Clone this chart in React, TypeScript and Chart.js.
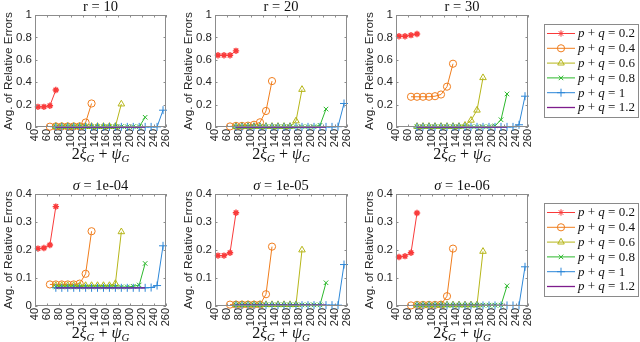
import React, { useEffect, useRef } from 'react';
import { Chart, registerables } from 'chart.js';
import { drawPoint } from 'chart.js/helpers';

Chart.register(...registerables);

// ---------- data ----------
const xTicks = [40, 60, 80, 100, 120, 140, 160, 180, 200, 220, 240, 260];
const yTicksTop = [0, 0.2, 0.4, 0.6, 0.8, 1];
const yTicksBottom = [0, 0.1, 0.2, 0.3, 0.4];

const seriesLabels = ['0.2', '0.4', '0.6', '0.8', '1', '1.2'];

const xRed = [45, 55, 65, 75];
const xOrange = [65, 75, 85, 95, 105, 115, 125, 135];
const xYellow = [75, 85, 95, 105, 115, 125, 135, 145, 155, 165, 175, 185];
const xGreen = [75, 85, 95, 105, 115, 125, 135, 145, 155, 165, 175, 185, 195, 205, 215, 225];
const xBlue = [75, 85, 95, 105, 115, 125, 135, 145, 155, 165, 175, 185, 195, 205, 215, 225, 235, 245, 255];
const xPurple = [75, 85, 95, 105, 115, 125, 135, 145, 155, 165, 175, 185, 195, 205, 215, 225];

// r = 10
const r10Red = [0.18, 0.18, 0.19, 0.33];
const r10Orange = [0.003, 0.005, 0.005, 0.005, 0.005, 0.006, 0.04, 0.21];
const r10Yellow = [0.005, 0.005, 0.005, 0.005, 0.005, 0.005, 0.005, 0.005, 0.005, 0.005, 0.005, 0.205];
const r10Green = [0.003, 0.003, 0.003, 0.003, 0.003, 0.003, 0.003, 0.003, 0.003, 0.003, 0.003, 0.003, 0.003, 0.003, 0.003, 0.087];
const r10Blue = [0.001, 0.001, 0.001, 0.001, 0.001, 0.001, 0.001, 0.001, 0.001, 0.001, 0.001, 0.001, 0.001, 0.001, 0.001, 0.001, 0.001, 0.001, 0.15];
const r10Purple = [0, 0, 0, 0, 0, 0, 0, 0, 0, 0, 0, 0, 0, 0, 0, 0];

// r = 20
const r20Red = [0.64, 0.64, 0.64, 0.68];
const r20Orange = [0.005, 0.01, 0.01, 0.012, 0.02, 0.042, 0.143, 0.41];
const r20Yellow = [0.005, 0.005, 0.005, 0.005, 0.005, 0.005, 0.005, 0.005, 0.005, 0.005, 0.054, 0.335];
const r20Green = [0.003, 0.003, 0.003, 0.003, 0.003, 0.003, 0.003, 0.003, 0.003, 0.003, 0.003, 0.003, 0.003, 0.003, 0.015, 0.16];
const r20Blue = [0.001, 0.001, 0.001, 0.001, 0.001, 0.001, 0.001, 0.001, 0.001, 0.001, 0.001, 0.001, 0.001, 0.001, 0.001, 0.001, 0.001, 0.003, 0.21];
const r20Purple = [0, 0, 0, 0, 0, 0, 0, 0, 0, 0, 0, 0, 0, 0, 0, 0];

// r = 30
const r30Red = [0.81, 0.81, 0.82, 0.83];
const r30Orange = [0.27, 0.27, 0.27, 0.27, 0.275, 0.29, 0.36, 0.565];
const r30Yellow = [0.005, 0.005, 0.005, 0.005, 0.005, 0.005, 0.005, 0.005, 0.015, 0.06, 0.15, 0.44];
const r30Green = [0.003, 0.003, 0.003, 0.003, 0.003, 0.003, 0.003, 0.003, 0.003, 0.003, 0.003, 0.003, 0.003, 0.01, 0.065, 0.295];
const r30Blue = [0.001, 0.001, 0.001, 0.001, 0.001, 0.001, 0.001, 0.001, 0.001, 0.001, 0.001, 0.001, 0.001, 0.001, 0.001, 0.001, 0.001, 0.02, 0.275];
const r30Purple = [0, 0, 0, 0, 0, 0, 0, 0, 0, 0, 0, 0, 0, 0, 0, 0];

// sigma = 1e-04
const s4Red = [0.205, 0.207, 0.218, 0.355];
const s4Orange = [0.077, 0.077, 0.077, 0.077, 0.077, 0.08, 0.115, 0.267];
const s4Yellow = [0.073, 0.073, 0.073, 0.073, 0.073, 0.073, 0.073, 0.073, 0.073, 0.073, 0.08, 0.265];
const s4Green = [0.068, 0.068, 0.068, 0.068, 0.068, 0.068, 0.068, 0.068, 0.068, 0.068, 0.068, 0.068, 0.068, 0.07, 0.075, 0.152];
const s4Blue = [0.065, 0.065, 0.065, 0.065, 0.065, 0.065, 0.065, 0.065, 0.065, 0.065, 0.065, 0.065, 0.065, 0.065, 0.065, 0.065, 0.066, 0.073, 0.215];
const s4Purple = [0.065, 0.065, 0.065, 0.065, 0.065, 0.065, 0.065, 0.065, 0.065, 0.065, 0.065, 0.065, 0.065, 0.065, 0.065, 0.065];

// sigma = 1e-05
const s5Red = [0.18, 0.18, 0.19, 0.333];
const s5Orange = [0.005, 0.005, 0.005, 0.005, 0.005, 0.005, 0.042, 0.212];
const s5Yellow = [0.005, 0.005, 0.005, 0.005, 0.005, 0.005, 0.005, 0.005, 0.005, 0.005, 0.005, 0.2];
const s5Green = [0.004, 0.004, 0.004, 0.004, 0.004, 0.004, 0.004, 0.004, 0.004, 0.004, 0.004, 0.004, 0.004, 0.004, 0.004, 0.083];
const s5Blue = [0.003, 0.003, 0.003, 0.003, 0.003, 0.003, 0.003, 0.003, 0.003, 0.003, 0.003, 0.003, 0.003, 0.003, 0.003, 0.003, 0.003, 0.003, 0.148];
const s5Purple = [0.003, 0.003, 0.003, 0.003, 0.003, 0.003, 0.003, 0.003, 0.003, 0.003, 0.003, 0.003, 0.003, 0.003, 0.003, 0.003];

// sigma = 1e-06
const s6Red = [0.175, 0.178, 0.19, 0.332];
const s6Orange = [0.002, 0.004, 0.004, 0.004, 0.004, 0.005, 0.035, 0.205];
const s6Yellow = [0.004, 0.004, 0.004, 0.004, 0.004, 0.004, 0.004, 0.004, 0.004, 0.004, 0.004, 0.195];
const s6Green = [0.003, 0.003, 0.003, 0.003, 0.003, 0.003, 0.003, 0.003, 0.003, 0.003, 0.003, 0.003, 0.003, 0.003, 0.003, 0.072];
const s6Blue = [0.002, 0.002, 0.002, 0.002, 0.002, 0.002, 0.002, 0.002, 0.002, 0.002, 0.002, 0.002, 0.002, 0.002, 0.002, 0.002, 0.002, 0.002, 0.14];
const s6Purple = [0.002, 0.002, 0.002, 0.002, 0.002, 0.002, 0.002, 0.002, 0.002, 0.002, 0.002, 0.002, 0.002, 0.002, 0.002, 0.002];

// ---------- styling ----------
const W = 640;
const H = 342;
const YW = 34;
const XH = 20;
const BOX = '#8c8c8c';
const TXT = '#262626';
const SANS = '"Liberation Sans", Arial, sans-serif';
const SERIF = '"Liberation Serif", "Times New Roman", serif';

const COLORS = ['#f93a3a', '#f07d1d', '#b6b61a', '#2cb82c', '#2c87d8', '#7d1c8c'];
const STYLES: any[] = ['star', 'circle', 'triangle', 'crossRot', 'cross', false];
const RADII = [3.2, 3.6, 3.8, 3.2, 4, 0];
const XS = [xRed, xOrange, xYellow, xGreen, xBlue, xPurple];

const COLS = [
  { l: 35, r: 166 },
  { l: 215, r: 347 },
  { l: 396, r: 528 },
];
const ROWS = [
  { t: 15, b: 127 },
  { t: 194, b: 306 },
];

type Seg = { t: string; font: string; dy?: number };

function richWidth(ctx: CanvasRenderingContext2D, segs: Seg[]) {
  let w = 0;
  for (const s of segs) {
    ctx.font = s.font;
    w += ctx.measureText(s.t).width;
  }
  return w;
}

function drawRich(ctx: CanvasRenderingContext2D, segs: Seg[], x: number, y: number, align: 'left' | 'center') {
  const total = richWidth(ctx, segs);
  let cx = align === 'center' ? x - total / 2 : x;
  ctx.textAlign = 'left';
  for (const s of segs) {
    ctx.font = s.font;
    ctx.fillText(s.t, cx, y + (s.dy || 0));
    cx += ctx.measureText(s.t).width;
  }
}

const panelPlugin = {
  id: 'panelDeco',
  afterDraw(chart: any, _args: any, opts: any) {
    const { ctx, chartArea: a } = chart;
    const xs = chart.scales.x;
    const ys = chart.scales.y;
    ctx.save();
    // inner ticks
    ctx.strokeStyle = BOX;
    ctx.lineWidth = 1;
    ctx.beginPath();
    for (const v of xTicks) {
      const px = Math.round(xs.getPixelForValue(v)) + 0.5;
      ctx.moveTo(px, a.bottom);
      ctx.lineTo(px, a.bottom - 2.5);
      ctx.moveTo(px, a.top);
      ctx.lineTo(px, a.top + 2.5);
    }
    for (const v of opts.yTicks) {
      const py = Math.round(ys.getPixelForValue(v)) + 0.5;
      ctx.moveTo(a.left, py);
      ctx.lineTo(a.left + 2.5, py);
      ctx.moveTo(a.right, py);
      ctx.lineTo(a.right - 2.5, py);
    }
    ctx.stroke();
    // box
    ctx.strokeRect(a.left + 0.5, a.top + 0.5, a.right - a.left - 1, a.bottom - a.top - 1);

    const cx = (a.left + a.right) / 2;
    // title
    ctx.fillStyle = '#111';
    ctx.textBaseline = 'alphabetic';
    drawRich(ctx, opts.title, cx, a.top - 4, 'center');

    // x label
    const f = '16px ' + SERIF;
    const fi = 'italic 16px ' + SERIF;
    const fs = 'italic 11px ' + SERIF;
    drawRich(
      ctx,
      [
        { t: '2', font: f },
        { t: 'ξ', font: fi },
        { t: 'G', font: fs, dy: 3 },
        { t: ' + ', font: f },
        { t: 'ψ', font: fi },
        { t: 'G', font: fs, dy: 3 },
      ],
      cx,
      a.bottom + 31.5,
      'center'
    );

    // y label
    ctx.save();
    ctx.translate(a.left - 26.5, (a.top + a.bottom) / 2);
    ctx.rotate(-Math.PI / 2);
    ctx.font = '11.8px ' + SANS;
    ctx.fillStyle = TXT;
    ctx.textAlign = 'center';
    ctx.textBaseline = 'middle';
    ctx.fillText('Avg. of Relative Errors', 0, 0);
    ctx.restore();

    // legend
    if (opts.legend) {
      const lx = 544;
      const ly = a.top + 9;
      const lw = 94;
      const lh = 93;
      ctx.fillStyle = '#fff';
      ctx.fillRect(lx, ly, lw, lh);
      ctx.strokeStyle = '#8a8a8a';
      ctx.lineWidth = 1;
      ctx.strokeRect(lx + 0.5, ly + 0.5, lw, lh);
      chart.data.datasets.forEach((ds: any, i: number) => {
        const ry = ly + 9.5 + i * 14.8;
        ctx.strokeStyle = ds.borderColor;
        ctx.lineWidth = ds.borderWidth;
        ctx.beginPath();
        ctx.moveTo(lx + 3, ry);
        ctx.lineTo(lx + 31, ry);
        ctx.stroke();
        if (ds.pointStyle) {
          ctx.fillStyle = 'rgba(0,0,0,0)';
          ctx.lineWidth = 1;
          drawPoint(ctx, { pointStyle: ds.pointStyle, radius: ds.pointRadius, rotation: 0, borderWidth: 1 } as any, lx + 17, ry);
        }
        ctx.fillStyle = '#111';
        ctx.textBaseline = 'middle';
        drawRich(
          ctx,
          [
            { t: 'p', font: 'italic 13px ' + SERIF },
            { t: ' + ', font: '13px ' + SERIF },
            { t: 'q', font: 'italic 13px ' + SERIF },
            { t: ' = ' + ds.label, font: '13px ' + SERIF },
          ],
          lx + 34,
          ry + 0.5,
          'left'
        );
      });
    }
    ctx.restore();
  },
};

type PanelDef = {
  row: number;
  col: number;
  title: Seg[];
  ys: number[][];
};

const titleFont = '14.5px ' + SERIF;
const titleItalic = 'italic 14.5px ' + SERIF;

const PANELS: PanelDef[] = [
  { row: 0, col: 0, title: [{ t: 'r = 10', font: titleFont }], ys: [r10Red, r10Orange, r10Yellow, r10Green, r10Blue, r10Purple] },
  { row: 0, col: 1, title: [{ t: 'r = 20', font: titleFont }], ys: [r20Red, r20Orange, r20Yellow, r20Green, r20Blue, r20Purple] },
  { row: 0, col: 2, title: [{ t: 'r = 30', font: titleFont }], ys: [r30Red, r30Orange, r30Yellow, r30Green, r30Blue, r30Purple] },
  { row: 1, col: 0, title: [{ t: 'σ', font: titleItalic }, { t: ' = 1e-04', font: titleFont }], ys: [s4Red, s4Orange, s4Yellow, s4Green, s4Blue, s4Purple] },
  { row: 1, col: 1, title: [{ t: 'σ', font: titleItalic }, { t: ' = 1e-05', font: titleFont }], ys: [s5Red, s5Orange, s5Yellow, s5Green, s5Blue, s5Purple] },
  { row: 1, col: 2, title: [{ t: 'σ', font: titleItalic }, { t: ' = 1e-06', font: titleFont }], ys: [s6Red, s6Orange, s6Yellow, s6Green, s6Blue, s6Purple] },
];

function fmtTick(v: number) {
  const s = Number(v).toFixed(1);
  return s.endsWith('.0') ? s.slice(0, -2) : s;
}

function Panel({ def }: { def: PanelDef }) {
  const ref = useRef<HTMLCanvasElement>(null);
  useEffect(() => {
    if (!ref.current) return;
    const col = COLS[def.col];
    const row = ROWS[def.row];
    const yTicks = def.row === 0 ? yTicksTop : yTicksBottom;
    const yMax = def.row === 0 ? 1 : 0.4;
    const datasets = def.ys.map((yv, i) => ({
      label: seriesLabels[i],
      data: XS[i].map((x, j) => ({ x, y: yv[j] })),
      borderColor: COLORS[i],
      backgroundColor: 'rgba(0,0,0,0)',
      pointBackgroundColor: 'rgba(0,0,0,0)',
      pointBorderColor: COLORS[i],
      pointStyle: STYLES[i],
      pointRadius: RADII[i],
      pointHoverRadius: RADII[i],
      pointBorderWidth: i === 0 ? 1.4 : 1,
      borderWidth: i === 5 ? 1.3 : 1,
      tension: 0,
      fill: false,
      clip: false as any,
      order: 5 - i,
    }));
    const chart = new Chart(ref.current, {
      type: 'line',
      data: { datasets },
      plugins: [panelPlugin],
      options: {
        animation: false,
        responsive: false,
        events: [],
        layout: {
          padding: {
            left: col.l - YW,
            right: W - col.r,
            top: row.t,
            bottom: H - row.b - XH,
          },
        },
        plugins: {
          legend: { display: false },
          tooltip: { enabled: false },
          title: { display: false },
          panelDeco: { title: def.title, yTicks, legend: def.col === 2 },
        } as any,
        scales: {
          x: {
            type: 'linear',
            min: 40,
            max: 260,
            grid: { display: false, drawTicks: false },
            border: { display: false },
            ticks: {
              minRotation: 90,
              maxRotation: 90,
              autoSkip: false,
              padding: 2,
              color: TXT,
              font: { family: SANS, size: 11 },
            },
            afterBuildTicks: (s: any) => {
              s.ticks = xTicks.map((v) => ({ value: v }));
            },
            afterFit: (s: any) => {
              s.height = XH;
              s.paddingLeft = 0;
              s.paddingRight = 0;
            },
          } as any,
          y: {
            type: 'linear',
            min: 0,
            max: yMax,
            grid: { display: false, drawTicks: false },
            border: { display: false },
            ticks: {
              padding: 3,
              color: TXT,
              font: { family: SANS, size: 11.5 },
              callback: (v: any) => fmtTick(v),
            },
            afterBuildTicks: (s: any) => {
              s.ticks = yTicks.map((v) => ({ value: v }));
            },
            afterFit: (s: any) => {
              s.width = YW;
              s.paddingTop = 0;
              s.paddingBottom = 0;
            },
          } as any,
        },
      },
    });
    return () => chart.destroy();
  }, [def]);
  return (
    <canvas
      ref={ref}
      width={W}
      height={H}
      style={{ position: 'absolute', left: 0, top: 0, width: W, height: H }}
    />
  );
}

export default function App() {
  return (
    <div style={{ position: 'absolute', left: 0, top: 0, width: W, height: H, background: '#fff' }}>
      {PANELS.map((p, i) => (
        <Panel key={i} def={p} />
      ))}
    </div>
  );
}
